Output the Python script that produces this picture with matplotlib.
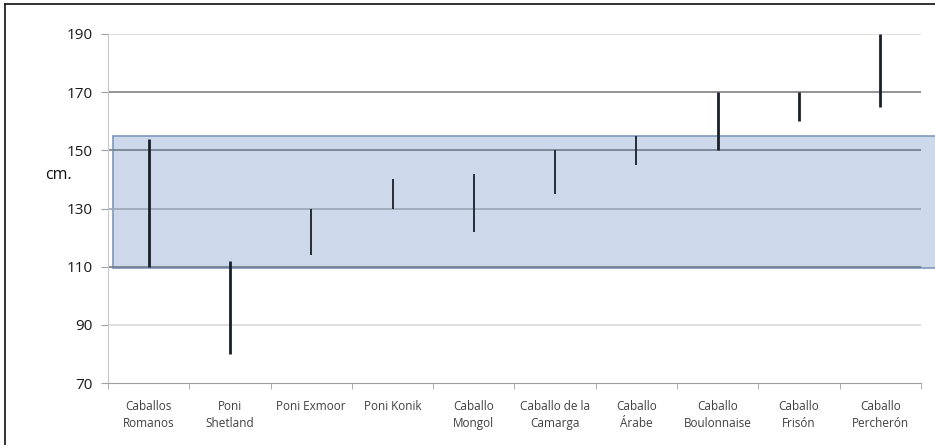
import numpy as np
import matplotlib
matplotlib.use("Agg")
import matplotlib.pyplot as plt
import matplotlib.transforms as mtransforms
from matplotlib.patches import Rectangle
from matplotlib.lines import Line2D

# DATA
razas = ["Caballos\nRomanos", "Poni\nShetland", "Poni Exmoor", "Poni Konik",
         "Caballo\nMongol", "Caballo de la\nCamarga", "Caballo\nÁrabe",
         "Caballo\nBoulonnaise", "Caballo\nFrisón", "Caballo\nPercherón"]
alt_min = [110, 80, 114, 130, 122, 135, 145, 150, 160, 165]
alt_max = [154, 112, 130, 140, 142, 150, 155, 170, 170, 190]
grueso = [2.0, 2.0, 1.3, 1.3, 1.3, 1.3, 1.3, 2.0, 2.0, 2.0]
banda = [109.5, 155]
yticks = [70, 90, 110, 130, 150, 170, 190]

plt.rcParams['font.family'] = ['Open Sans', 'DejaVu Sans']

fig = plt.figure(figsize=(9.35, 4.45), dpi=100)
ax = fig.add_axes([0.1155, 0.1393, 0.985 - 0.1155, 0.9236 - 0.1393])

x = np.arange(len(razas))

# BANDA AZUL (se sale del area del grafico hacia la derecha)
trans = mtransforms.blended_transform_factory(ax.transAxes, ax.transData)
ax.add_patch(Rectangle((0.006, banda[0]), 1.2, banda[1] - banda[0],
                       transform=trans, clip_on=False, facecolor='#cdd9ea',
                       edgecolor='#7f97bb', linewidth=1.2, zorder=1))

# GRID
grid_col = {70: None, 90: '#d9d9d9', 110: '#6f7c8c', 130: '#9aa6b6',
            150: '#6f7c8c', 170: '#808080', 190: '#d9d9d9'}
for yv in yticks:
    if grid_col[yv] is not None:
        ax.axhline(yv, color=grid_col[yv], linewidth=1.2, zorder=2)

# RANGOS
ax.vlines(x, alt_min, alt_max, colors='#1a1f2a', linewidths=grueso, zorder=3)

ax.set_xlim(-0.5, len(razas) - 0.5)
ax.set_ylim(70, 190)
ax.set_yticks(yticks)
ax.set_xticks(x)
ax.set_xticklabels(razas, fontsize=8.5, color='#404040', linespacing=1.45)
ax.set_xticks(np.arange(-0.5, len(razas)), minor=True)
ax.tick_params(axis='x', which='major', length=0, pad=12)
ax.tick_params(axis='x', which='minor', length=4, color='#a0a0a0')
ax.tick_params(axis='y', length=5, color='#a0a0a0', labelsize=11,
               labelcolor='#1a1a1a', pad=6)

for s in ['top', 'right']:
    ax.spines[s].set_visible(False)
ax.spines['left'].set_color('#c8c8c8')
ax.spines['bottom'].set_color('#a0a0a0')

fig.text(0.048, 0.607, 'cm.', fontsize=11.5, ha='left', va='center', color='#111111')

# MARCO (solo izquierda y arriba visibles)
fig.add_artist(Line2D([0.0055, 0.0055], [0.0, 0.991], transform=fig.transFigure,
                      color='#222222', linewidth=1.3))
fig.add_artist(Line2D([0.0055, 1.0], [0.991, 0.991], transform=fig.transFigure,
                      color='#222222', linewidth=1.3))

plt.savefig('out.png', dpi=100)
